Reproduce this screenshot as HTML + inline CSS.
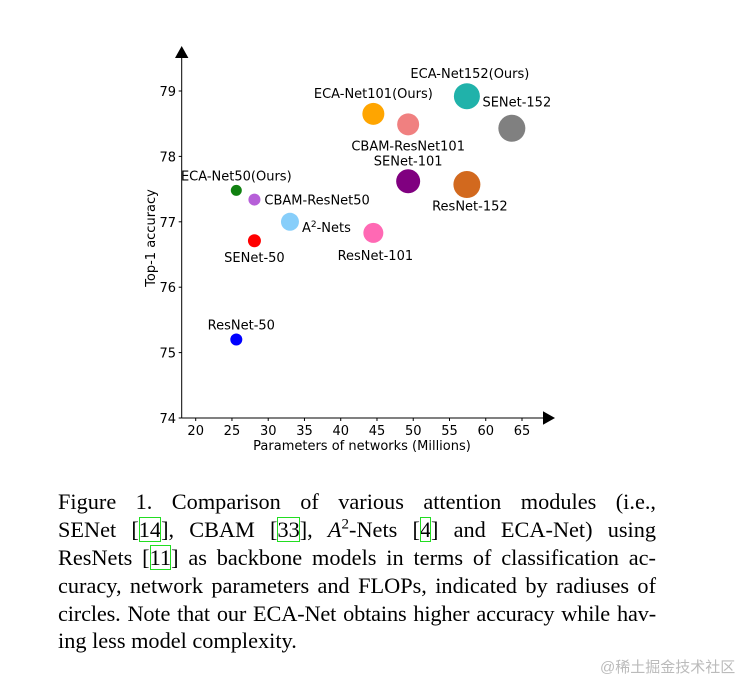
<!DOCTYPE html>
<html><head><meta charset="utf-8">
<style>
html,body{margin:0;padding:0;background:#fff;width:749px;height:681px;overflow:hidden;position:relative}
svg{position:absolute;left:0;top:0}
.cap{position:absolute;left:58px;top:488px;width:598px;font-family:"Liberation Serif",serif;font-size:22.3px;line-height:27.9px;color:#000}
.cap div{text-align:justify;text-align-last:justify;white-space:nowrap;height:27.9px}
.cap div.last{text-align-last:left}
.cap .ref{outline:1.5px solid #22dd22;outline-offset:-1px}
.wm{position:absolute;left:600px;top:656px;font-family:"Liberation Sans","Noto Sans CJK SC",sans-serif;font-size:15px;color:#bbb}
</style></head><body>
<svg id="chart" width="749" height="480" xmlns="http://www.w3.org/2000/svg" font-family="DejaVu Sans, Liberation Sans, sans-serif"></svg>
<div class="cap">
<div>Figure 1. Comparison of various attention modules (i.e.,</div>
<div>SENet [<span class="ref">14</span>], CBAM [<span class="ref">33</span>], <i>A</i><sup style="font-size:15px;line-height:0">2</sup>-Nets [<span class="ref">4</span>] and ECA-Net) using</div>
<div>ResNets [<span class="ref">11</span>] as backbone models in terms of classification ac-</div>
<div>curacy, network parameters and FLOPs, indicated by radiuses of</div>
<div style="letter-spacing:-0.15px">circles. Note that our ECA-Net obtains higher accuracy while hav-</div>
<div class="last">ing less model complexity.</div>
</div>
<div class="wm">@稀土掘金技术社区</div>
<script>
const names=["ECA-Net50(Ours)","CBAM-ResNet50","SENet-50","ResNet-50","A2-Nets","ResNet-101","ECA-Net101(Ours)","CBAM-ResNet101","SENet-101","ECA-Net152(Ours)","ResNet-152","SENet-152"];
const params=[25.6,28.1,28.1,25.6,33.0,44.5,44.5,49.3,49.3,57.4,57.4,63.6];
const acc=[77.48,77.34,76.71,75.2,77.0,76.83,78.65,78.49,77.62,78.92,77.57,78.43];
const flops=[5.5,6,6.5,6,9,10,11,11,12,13,13.5,13.5];
const colors=["#108010","#b65fd8","#ff0000","#0000ff","#87cefa","#ff69b4","#ffa500","#f08080","#800080","#20b2aa","#d2691e","#808080"];
const xTicks=[20,25,30,35,40,45,50,55,60,65];
const yTicks=[74,75,76,77,78,79];
const lab=[[0,-10,"middle"],[10,5,"start"],[0,21,"middle"],[5,-10,"middle"],[12,10,"start"],[2,27,"middle"],[0,-16,"middle"],[0,26,"middle"],[0,-16,"middle"],[3,-18,"middle"],[3,26,"middle"],[5,-22,"middle"]];
const X=v=>195.7+(v-20)*(522-195.7)/45;
const Y=v=>418-(v-74)*(418-91)/5;
const s=document.getElementById('chart');const NS="http://www.w3.org/2000/svg";
function mk(t,a,p){const e=document.createElementNS(NS,t);for(const k in a)e.setAttribute(k,a[k]);(p||s).appendChild(e);return e;}
let e;
e=mk('line',{x1:181.7,y1:418,x2:181.7,y2:56,stroke:'#000','stroke-width':1});


e=mk('polygon',{points:'175,58 188.4,58 181.7,46',fill:'#000'});


e=mk('line',{x1:181.7,y1:418,x2:545,y2:418,stroke:'#000','stroke-width':1});


e=mk('polygon',{points:'543,411.3 543,424.7 555,418',fill:'#000'});


xTicks.forEach(t=>{
 e=mk('line',{x1:X(t),y1:418,x2:X(t),y2:421,stroke:'#000'});
 
 
 e=mk('text',{x:X(t),y:435,'font-size':13,'text-anchor':'middle'});e.textContent=t;
 
 
});
yTicks.forEach(t=>{
 e=mk('line',{x1:178.7,y1:Y(t),x2:181.7,y2:Y(t),stroke:'#000'});
 
 
 e=mk('text',{x:176,y:Y(t)+5,'font-size':13,'text-anchor':'end'});e.textContent=t;
 
 
});
e=mk('text',{x:362,y:450,'font-size':13,'text-anchor':'middle'});e.textContent='Parameters of networks (Millions)';


e=mk('text',{x:0,y:0,'font-size':13,'text-anchor':'middle',transform:'translate(155,238) rotate(-90)'});e.textContent='Top-1 accuracy';


names.forEach((n,i)=>{
 const cx=X(params[i]),cy=Y(acc[i]);
 e=mk('circle',{cx:cx,cy:cy,r:flops[i],fill:colors[i]});
 
 
 e=mk('text',{x:cx+lab[i][0],y:cy+lab[i][1],'font-size':13,'text-anchor':lab[i][2]});
 if(n==="A2-Nets"){e.innerHTML='A<tspan dy="-5" font-size="9">2</tspan><tspan dy="5">-Nets</tspan>';}
 else e.textContent=n;
 
 
});
</script>
</body></html>
